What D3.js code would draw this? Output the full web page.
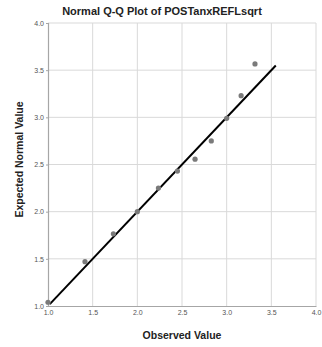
<!DOCTYPE html>
<html><head><meta charset="utf-8">
<script src="https://cdn.jsdelivr.net/npm/d3@7"></script>
<style>body{margin:0;background:#fff;}svg{display:block;}</style>
</head><body>
<script>
const title = "Normal Q-Q Plot of POSTanxREFLsqrt";
const xLabel = "Observed Value";
const yLabel = "Expected Normal Value";
const observed = [1.0, 1.414, 1.732, 2.0, 2.236, 2.449, 2.646, 2.828, 3.0, 3.162, 3.317];
const expected = [1.04, 1.47, 1.765, 2.0, 2.25, 2.43, 2.556, 2.75, 2.99, 3.23, 3.566];
const lineEnds = [1.02, 3.55];
const ticks = [1.0, 1.5, 2.0, 2.5, 3.0, 3.5, 4.0];

const W = 322, H = 347;
const m = {left: 48, right: 6, top: 23, bottom: 41};
const svg = d3.select("body").append("svg").attr("width", W).attr("height", H);
const x = d3.scaleLinear().domain([1, 4]).range([m.left, W - m.right]);
const y = d3.scaleLinear().domain([1, 4]).range([H - m.bottom, m.top]);

// grid
svg.append("g").selectAll("line").data(ticks.slice(1)).join("line")
  .attr("x1", d => x(d)).attr("x2", d => x(d)).attr("y1", y(1)).attr("y2", y(4))
  .attr("stroke", "#d9d9d9").attr("stroke-width", 1);
svg.append("g").selectAll("line").data(ticks.slice(1)).join("line")
  .attr("y1", d => y(d)).attr("y2", d => y(d)).attr("x1", x(1)).attr("x2", x(4))
  .attr("stroke", "#d9d9d9").attr("stroke-width", 1);

// axes
const xAxis = svg.append("g").attr("transform", `translate(0,${y(1)})`)
  .call(d3.axisBottom(x).tickValues(ticks).tickFormat(d3.format(".1f")).tickSize(0).tickPadding(4));
const yAxis = svg.append("g").attr("transform", `translate(${x(1)},0)`)
  .call(d3.axisLeft(y).tickValues(ticks).tickFormat(d3.format(".1f")).tickSize(2).tickPadding(2));
[xAxis, yAxis].forEach(a => {
  a.select(".domain").attr("stroke", "#a6a6a6").attr("stroke-width", 1.2);
  a.selectAll(".tick line").attr("stroke", "#a6a6a6");
  a.selectAll("text").attr("font-family", "Liberation Sans, Arial, sans-serif")
    .attr("font-size", 7).attr("fill", "#555");
});

// reference line
svg.append("line")
  .attr("x1", x(lineEnds[0])).attr("y1", y(lineEnds[0]))
  .attr("x2", x(lineEnds[1])).attr("y2", y(lineEnds[1]))
  .attr("stroke", "#000").attr("stroke-width", 2);

// points
svg.append("g").selectAll("circle").data(observed.map((o, i) => [o, expected[i]])).join("circle")
  .attr("cx", d => x(d[0])).attr("cy", d => y(d[1])).attr("r", 2.6)
  .attr("fill", "#7a7a7a");

// title and labels
svg.append("text").attr("x", 162).attr("y", 15).attr("text-anchor", "middle")
  .attr("font-family", "Liberation Sans, Arial, sans-serif").attr("font-size", 11).attr("font-weight", "bold")
  .attr("fill", "#222").text(title);
svg.append("text").attr("x", (x(1) + x(4)) / 2).attr("y", 339).attr("text-anchor", "middle")
  .attr("font-family", "Liberation Sans, Arial, sans-serif").attr("font-size", 10.5).attr("font-weight", "bold")
  .attr("fill", "#222").text(xLabel);
svg.append("text").attr("transform", `translate(23,${(y(1) + y(4)) / 2 - 5}) rotate(-90)`).attr("text-anchor", "middle")
  .attr("font-family", "Liberation Sans, Arial, sans-serif").attr("font-size", 10.5).attr("font-weight", "bold")
  .attr("fill", "#222").text(yLabel);
</script>
</body></html>
